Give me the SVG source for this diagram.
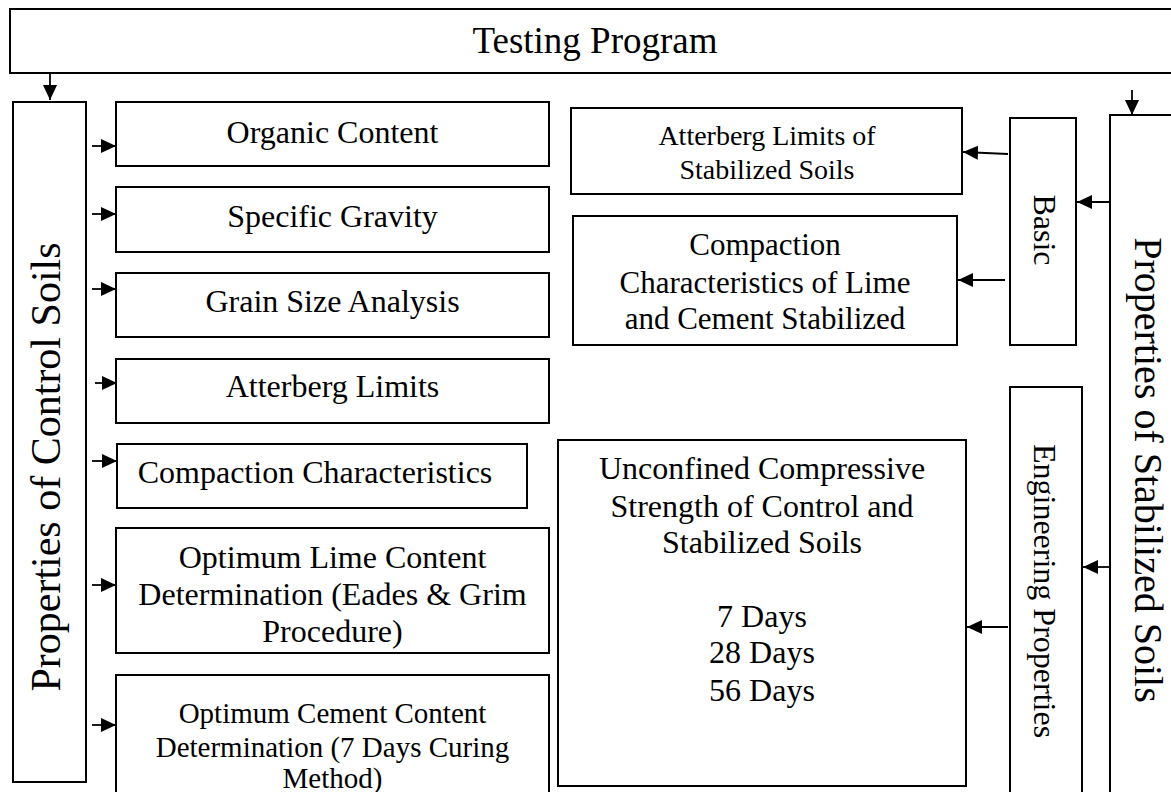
<svg xmlns="http://www.w3.org/2000/svg" width="1171" height="792" viewBox="0 0 1171 792">
<style>
.box{fill:#fff;stroke:#000;stroke-width:2}
.t{font-family:"Liberation Serif","Times New Roman",serif;fill:#000;text-anchor:middle}
.c{stroke:#000;stroke-width:1.8;fill:none}
</style>
<defs>
<marker id="ah" viewBox="0 0 15 14" refX="15" refY="7" markerWidth="15" markerHeight="14" markerUnits="userSpaceOnUse" orient="auto">
<path d="M0,0 L15,7 L0,14 Z" fill="#000"/>
</marker>
</defs>
<rect width="1171" height="792" fill="#fff"/>
<g id="testing-program">
<rect class="box" x="10" y="9" width="1175" height="64"/>
<text class="t" x="595" y="53" font-size="37">Testing Program</text>
</g>
<g id="control-soils">
<rect class="box" x="13" y="102" width="73" height="680"/>
<text class="t" font-size="42" transform="translate(60,467) rotate(-90)">Properties of Control Soils</text>
</g>
<g id="organic">
<rect class="box" x="116" y="102" width="433" height="64"/>
<text class="t" x="332.5" y="143" font-size="32">Organic Content</text>
</g>
<g id="specific-gravity">
<rect class="box" x="116" y="187" width="433" height="65"/>
<text class="t" x="332.5" y="227" font-size="32">Specific Gravity</text>
</g>
<g id="grain-size">
<rect class="box" x="116" y="273" width="433" height="64"/>
<text class="t" x="332.5" y="312" font-size="32">Grain Size Analysis</text>
</g>
<g id="atterberg">
<rect class="box" x="116" y="359" width="433" height="64"/>
<text class="t" x="332.5" y="397" font-size="32">Atterberg Limits</text>
</g>
<g id="compaction">
<rect class="box" x="117" y="444" width="410" height="64"/>
<text class="t" x="315" y="483" font-size="32">Compaction Characteristics</text>
</g>
<g id="optimum-lime">
<rect class="box" x="116" y="528" width="433" height="125"/>
<text class="t" x="332.5" y="568" font-size="32">Optimum Lime Content</text>
<text class="t" x="332.5" y="605" font-size="32">Determination (Eades &amp; Grim</text>
<text class="t" x="332.5" y="642" font-size="32">Procedure)</text>
</g>
<g id="optimum-cement">
<rect class="box" x="116" y="675" width="433" height="130"/>
<text class="t" x="332.5" y="723" font-size="29">Optimum Cement Content</text>
<text class="t" x="332.5" y="757" font-size="29">Determination (7 Days Curing</text>
<text class="t" x="332.5" y="788" font-size="29">Method)</text>
</g>
<g id="atterberg-stabilized">
<rect class="box" x="571" y="108" width="391" height="86"/>
<text class="t" x="767" y="145" font-size="28">Atterberg Limits of</text>
<text class="t" x="767" y="179" font-size="28">Stabilized Soils</text>
</g>
<g id="compaction-stabilized">
<rect class="box" x="573" y="216" width="384" height="129"/>
<text class="t" x="765" y="255" font-size="31">Compaction</text>
<text class="t" x="765" y="293" font-size="31">Characteristics of Lime</text>
<text class="t" x="765" y="329" font-size="31">and Cement Stabilized</text>
</g>
<g id="basic">
<rect class="box" x="1010" y="118" width="66" height="227"/>
<text class="t" font-size="32" transform="translate(1034,230) rotate(90)">Basic</text>
</g>
<g id="stabilized-soils">
<rect class="box" x="1110" y="115" width="80" height="700"/>
<text class="t" font-size="40" transform="translate(1135,470) rotate(90)">Properties of Stabilized Soils</text>
</g>
<g id="engineering">
<rect class="box" x="1010" y="387" width="72" height="430"/>
<text class="t" font-size="32" transform="translate(1034,591) rotate(90)">Engineering Properties</text>
</g>
<g id="ucs">
<rect class="box" x="558" y="440" width="408" height="346"/>
<text class="t" x="762" y="479" font-size="32">Unconfined Compressive</text>
<text class="t" x="762" y="517" font-size="32">Strength of Control and</text>
<text class="t" x="762" y="553" font-size="32">Stabilized Soils</text>
<text class="t" x="762" y="627" font-size="32">7 Days</text>
<text class="t" x="762" y="663" font-size="32">28 Days</text>
<text class="t" x="762" y="701" font-size="32">56 Days</text>
</g>
<g id="connectors">
<line class="c" x1="50" y1="73" x2="50" y2="100" marker-end="url(#ah)"/>
<line class="c" x1="92" y1="146" x2="116" y2="146" marker-end="url(#ah)"/>
<line class="c" x1="92" y1="214" x2="116" y2="214" marker-end="url(#ah)"/>
<line class="c" x1="92" y1="289" x2="116" y2="289" marker-end="url(#ah)"/>
<line class="c" x1="95" y1="383" x2="117" y2="383" marker-end="url(#ah)"/>
<line class="c" x1="92" y1="461" x2="117" y2="461" marker-end="url(#ah)"/>
<line class="c" x1="92" y1="585" x2="116" y2="585" marker-end="url(#ah)"/>
<line class="c" x1="92" y1="725" x2="116" y2="725" marker-end="url(#ah)"/>
<line class="c" x1="1132" y1="90" x2="1132" y2="115" marker-end="url(#ah)"/>
<line class="c" x1="1110" y1="202" x2="1077" y2="202" marker-end="url(#ah)"/>
<line class="c" x1="1008" y1="154" x2="963" y2="152" marker-end="url(#ah)"/>
<line class="c" x1="1005" y1="280" x2="958" y2="280" marker-end="url(#ah)"/>
<line class="c" x1="1110" y1="567" x2="1083" y2="567" marker-end="url(#ah)"/>
<line class="c" x1="1008" y1="627" x2="967" y2="627" marker-end="url(#ah)"/>
</g>
</svg>
